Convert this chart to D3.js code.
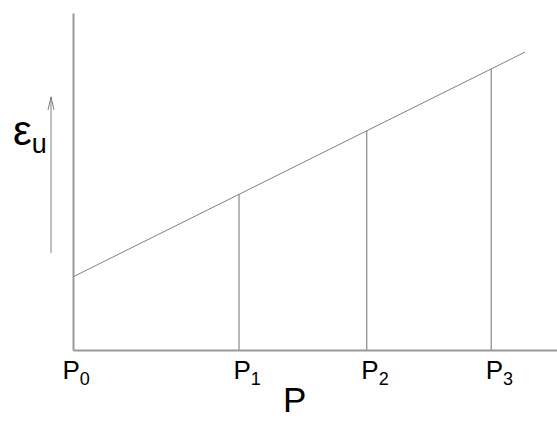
<!DOCTYPE html>
<html>
<head>
<meta charset="utf-8">
<script src="https://cdn.jsdelivr.net/npm/d3@7"></script>
<style>
  body { margin: 0; background: #fff; }
  svg { display: block; font-family: "Liberation Sans", Arial, sans-serif; }
</style>
</head>
<body>
<svg id="chart" width="557" height="421"></svg>
<script>
// schematic: strain eps_u rising linearly with P
const tickSubs = ['0', '1', '2', '3'];
const tickP = [0, 34.3, 60.7, 86.4];
const lineP = [0, 93.4];
const lineEps = [21.7, 88.4];
const dropEps = [null, 46.2, 65.0, 83.4];

const W = 557, H = 421;
const svg = d3.select('#chart');

const x = d3.scaleLinear().domain([0, 100]).range([73, 557]);
const y = d3.scaleLinear().domain([0, 100]).range([350, 13]);

// y axis (plain line, no ticks)
svg.append('g')
    .attr('transform', `translate(${x(0)},0)`)
    .call(d3.axisLeft(y).tickValues([]).tickSizeOuter(0))
    .select('.domain')
    .attr('stroke', '#9a9a9a')
    .attr('stroke-width', 2);

// drop lines from the curve to the P axis
svg.append('g').selectAll('line')
    .data(tickP.map((p, i) => ({ p, e: dropEps[i] })).filter(d => d.e != null))
    .join('line')
    .attr('x1', d => x(d.p)).attr('x2', d => x(d.p))
    .attr('y1', d => y(d.e)).attr('y2', y(0))
    .attr('stroke', '#707070')
    .attr('stroke-width', 1);

// x axis
const xAxis = svg.append('g')
    .attr('transform', `translate(0,${y(0)})`)
    .call(d3.axisBottom(x).tickValues(tickP).tickSize(0).tickSizeOuter(0).tickPadding(0));
xAxis.select('.domain')
    .attr('stroke', '#9a9a9a')
    .attr('stroke-width', 2);
xAxis.selectAll('.tick text')
    .attr('fill', '#000')
    .attr('text-anchor', 'start')
    .attr('dy', null)
    .attr('y', 29)
    .attr('x', (d, i) => i === 0 ? -11 : -6)
    .text(null)
    .each(function(d, i) {
        const t = d3.select(this);
        t.append('tspan').attr('font-size', 26).text('P');
        t.append('tspan').attr('font-size', 18).attr('dy', 6).text(tickSubs[i]);
    });

// the line
const line = d3.line().x(d => x(d[0])).y(d => y(d[1]));
svg.append('path')
    .datum(d3.zip(lineP, lineEps))
    .attr('d', line)
    .attr('fill', 'none')
    .attr('stroke', '#808080')
    .attr('stroke-width', 1);

// arrow next to y label
const ax = 51;
svg.append('line')
    .attr('x1', ax).attr('x2', ax)
    .attr('y1', y(28.8)).attr('y2', y(75.1))
    .attr('stroke', '#808080').attr('stroke-width', 1);
svg.append('path')
    .attr('d', `M${ax - 3},${y(75.1) + 13}L${ax},${y(75.1)}L${ax + 3},${y(75.1) + 13}`)
    .attr('fill', 'none')
    .attr('stroke', '#808080').attr('stroke-width', 1);

// y label
const yl = svg.append('text').attr('x', 13).attr('y', 145).attr('fill', '#000');
yl.append('tspan').attr('font-size', 42).text('ε');
yl.append('tspan').attr('font-size', 27).attr('dy', 8).text('u');

// x label
svg.append('text')
    .attr('x', 283).attr('y', 412)
    .attr('font-size', 35)
    .attr('fill', '#000')
    .text('P');
</script>
</body>
</html>
